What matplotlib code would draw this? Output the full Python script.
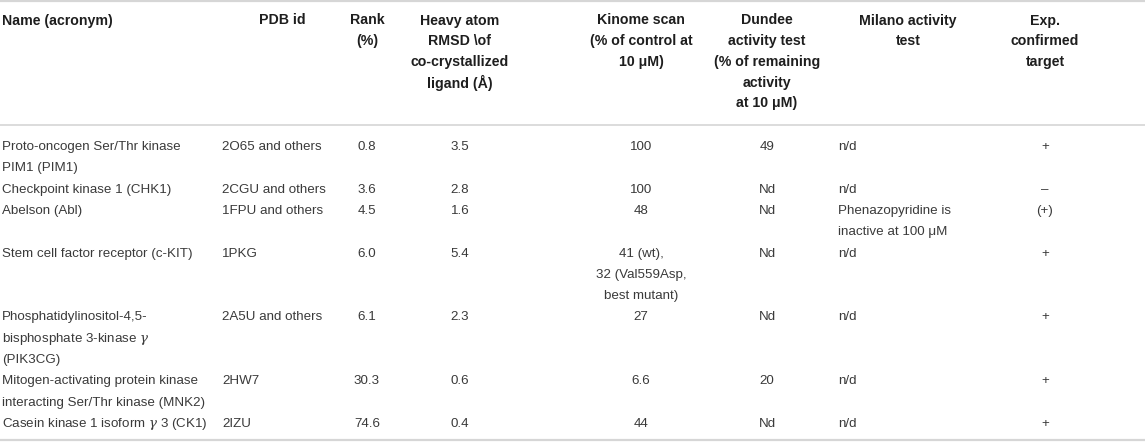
import matplotlib
matplotlib.use('Agg')
import matplotlib.pyplot as plt

# table content, column by column
headers = [
    "Name (acronym)",
    "PDB id",
    "Rank\n(%)",
    "Heavy atom\nRMSD \\of\nco-crystallized\nligand (Å)",
    "Kinome scan\n(% of control at\n10 μM)",
    "Dundee\nactivity test\n(% of remaining\nactivity\nat 10 μM)",
    "Milano activity\ntest",
    "Exp.\nconfirmed\ntarget",
]
names = [
    "Proto-oncogen Ser/Thr kinase\nPIM1 (PIM1)",
    "Checkpoint kinase 1 (CHK1)",
    "Abelson (Abl)",
    "Stem cell factor receptor (c-KIT)",
    "Phosphatidylinositol-4,5-\nbisphosphate 3-kinase $\\gamma$\n(PIK3CG)",
    "Mitogen-activating protein kinase\ninteracting Ser/Thr kinase (MNK2)",
    "Casein kinase 1 isoform $\\gamma$ 3 (CK1)",
]
pdb_ids = ["2O65 and others", "2CGU and others", "1FPU and others", "1PKG",
           "2A5U and others", "2HW7", "2IZU"]
rank = ["0.8", "3.6", "4.5", "6.0", "6.1", "30.3", "74.6"]
rmsd = ["3.5", "2.8", "1.6", "5.4", "2.3", "0.6", "0.4"]
kinome = ["100", "100", "48", "41 (wt),\n32 (Val559Asp,\nbest mutant)", "27", "6.6", "44"]
dundee = ["49", "Nd", "Nd", "Nd", "Nd", "20", "Nd"]
milano = ["n/d", "n/d", "Phenazopyridine is\ninactive at 100 μM", "n/d", "n/d", "n/d", "n/d"]
confirmed = ["+", "–", "(+)", "+", "+", "+", "+"]

columns = [names, pdb_ids, rank, rmsd, kinome, dundee, milano, confirmed]

# layout (pixels)
W, H = 1145, 444
header_x = [2, 282, 367, 460, 641, 767, 908, 1045]
header_ha = ['left', 'center', 'center', 'center', 'center', 'center', 'center', 'center']
cell_x = [2, 222, 367, 460, 641, 767, 838, 1045]
cell_ha = ['left', 'left', 'center', 'center', 'center', 'center', 'left', 'center']
header_y0, header_dy = 20.5, 20.7
body_y0, body_dy = 147, 21.3
line_color = '#d6d6d6'
text_color = '#3a3a3a'
fs_head = 10.2
fs_body = 9.6

plt.rcParams['font.family'] = ['Liberation Sans', 'DejaVu Sans']
plt.rcParams['mathtext.fontset'] = 'dejavuserif'

fig = plt.figure(figsize=(W / 100, H / 100), dpi=100)
ax = fig.add_axes([0, 0, 1, 1])
ax.set_xlim(0, W)
ax.set_ylim(H, 0)
ax.axis('off')

ax.axhline(1, color=line_color, lw=1.6)
ax.axhline(125, color=line_color, lw=1.2)
ax.axhline(440, color=line_color, lw=1.6)

for j, head in enumerate(headers):
    for k, line in enumerate(head.split("\n")):
        ax.text(header_x[j], header_y0 + k * header_dy, line, ha=header_ha[j],
                va='center', fontsize=fs_head, fontweight='bold', color='#1e1e1e')

line_idx = 0
for i in range(len(names)):
    n_lines = max(len(col[i].split("\n")) for col in columns)
    for j, col in enumerate(columns):
        for k, line in enumerate(col[i].split("\n")):
            ax.text(cell_x[j], body_y0 + (line_idx + k) * body_dy, line,
                    ha=cell_ha[j], va='center', fontsize=fs_body, color=text_color)
    line_idx += n_lines

fig.savefig('out.png', dpi=100)
